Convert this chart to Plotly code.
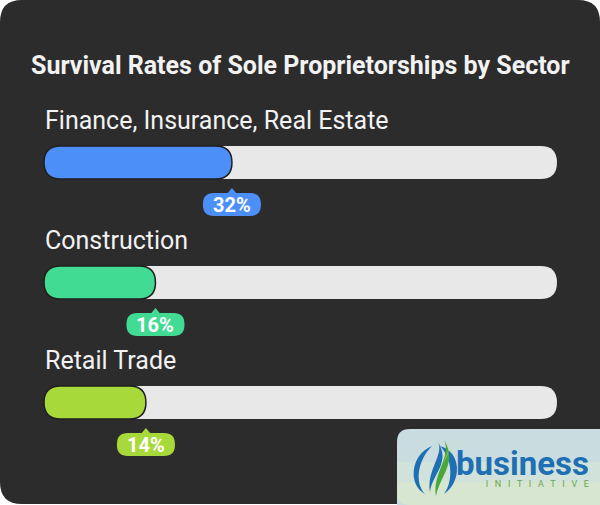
import plotly.graph_objects as go

# ---- data ----
sectors = ["Finance, Insurance, Real Estate", "Construction", "Retail Trade"]
rates = [32, 16, 14]
colors = ["#4d8ff8", "#42db94", "#a8d93b"]
title = "Survival Rates of Sole Proprietorships by Sector"

W, H = 600, 505
TRACK_X0, TRACK_X1 = 44, 557
TRACK_H = 33
MIN_W = 35
ROW0_Y = 146
ROW_STEP = 120


def rrect(x0, y0, x1, y1, r):
    r = min(r, (x1 - x0) / 2, (y1 - y0) / 2)
    return (f"M {x0+r},{y0} L {x1-r},{y0} Q {x1},{y0} {x1},{y0+r} "
            f"L {x1},{y1-r} Q {x1},{y1} {x1-r},{y1} L {x0+r},{y1} "
            f"Q {x0},{y1} {x0},{y1-r} L {x0},{y0+r} Q {x0},{y0} {x0+r},{y0} Z")


shapes = []
annotations = []

# card background
shapes.append(dict(type="path", path=rrect(0, 0, 600, 504, 22), fillcolor="#2c2c2c",
                   line=dict(width=0), layer="below"))

annotations.append(dict(x=300, y=65, text=f"<b>{title}</b>", showarrow=False,
                        font=dict(family="Roboto", size=25, color="#f2f2f2"),
                        xanchor="center", yanchor="middle"))

for i, (name, v, c) in enumerate(zip(sectors, rates, colors)):
    y0 = ROW0_Y + i * ROW_STEP
    y1 = y0 + TRACK_H
    annotations.append(dict(x=TRACK_X0 - 1, y=y0 - 26, text=name, showarrow=False,
                            font=dict(family="Roboto", size=25, color="#f2f2f2"),
                            xanchor="left", yanchor="middle"))
    shapes.append(dict(type="path", path=rrect(TRACK_X0, y0, TRACK_X1, y1, TRACK_H / 2),
                       fillcolor="#e8e8e8", line=dict(width=0)))
    fw = MIN_W + v / 100 * (TRACK_X1 - TRACK_X0 - MIN_W)
    fx1 = TRACK_X0 + fw
    shapes.append(dict(type="path", path=rrect(TRACK_X0, y0, fx1, y1, TRACK_H / 2),
                       fillcolor=c, line=dict(width=1.5, color="#1e1e1e")))
    # pill label
    cx = fx1
    py0 = y1 + 14
    py1 = py0 + 23
    shapes.append(dict(type="path", path=rrect(cx - 29, py0, cx + 29, py1, 11),
                       fillcolor=c, line=dict(width=0)))
    shapes.append(dict(type="path", path=f"M {cx-5},{py0+1} L {cx},{py0-5} L {cx+5},{py0+1} Z",
                       fillcolor=c, line=dict(width=0)))
    annotations.append(dict(x=cx, y=(py0 + py1) / 2 + 0.5, text=f"<b>{v}%</b>", showarrow=False,
                            font=dict(family="Roboto", size=20, color="white"),
                            xanchor="center", yanchor="middle"))

# ---- logo badge ----
logo_path = rrect(397, 429, 620, 530, 13)
shapes.append(dict(type="path", path=logo_path, fillcolor="#c9dde0", line=dict(width=0)))
shapes.append(dict(type="path",
                   path="M 397,462 L 600,462 L 600,505 L 410,505 Q 397,505 397,492 Z",
                   fillcolor="#d6e6d4", line=dict(width=0), opacity=0.6))
shapes.append(dict(type="path",
                   path="M 397,482 L 600,482 L 600,505 L 410,505 Q 397,505 397,492 Z",
                   fillcolor="#d9e8cc", line=dict(width=0), opacity=0.7))
# swirl icon
blue = "#1e6fb3"
shapes.append(dict(type="path",
                   path="M 432,446 C 410,455 408,485 425,494 C 414,482 418,460 432,446 Z",
                   fillcolor=blue, line=dict(width=0)))
shapes.append(dict(type="path",
                   path="M 440,446 C 462,452 462,482 444,494 C 454,480 452,458 440,446 Z",
                   fillcolor=blue, line=dict(width=0)))
shapes.append(dict(type="path",
                   path="M 437,441 C 446,452 426,470 430,492 C 432,474 452,462 437,441 Z",
                   fillcolor=blue, line=dict(width=0)))
shapes.append(dict(type="path",
                   path="M 444,440 C 452,456 432,474 436,496 C 440,476 458,462 444,440 Z",
                   fillcolor="#4aa83a", line=dict(width=0)))
shapes.append(dict(type="path",
                   path="M 446,441 C 452,452 444,460 440,468 C 446,458 452,452 446,441 Z",
                   fillcolor="#c8e04a", line=dict(width=0)))
logo_text = (f"<span style='font-size:33px;color:{blue}'><b>business</b></span><br>"
             "<span style='color:#6aa84f'>I   N   I   T   I   A   T   I   V   E</span>")
annotations.append(dict(x=454, y=491, text=logo_text, showarrow=False, align="right",
                        font=dict(family="Roboto", size=9, color="#6aa84f"),
                        xanchor="left", yanchor="bottom"))

fig = go.Figure()
fig.add_trace(go.Scatter(x=[0], y=[0], mode="markers", marker=dict(opacity=0),
                         hoverinfo="skip", showlegend=False))
fig.update_layout(
    width=W, height=H, margin=dict(l=0, r=0, t=0, b=0),
    paper_bgcolor="white", plot_bgcolor="white",
    xaxis=dict(range=[0, W], visible=False, fixedrange=True),
    yaxis=dict(range=[H, 0], visible=False, fixedrange=True),
    shapes=shapes, annotations=annotations, showlegend=False,
)
fig.write_html("out.html", config={"displayModeBar": False},
               post_script="document.body.style.margin='0';document.body.style.overflow='hidden';")
